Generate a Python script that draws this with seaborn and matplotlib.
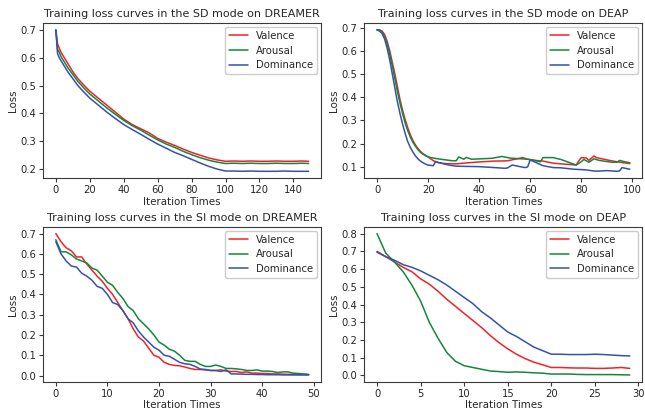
import matplotlib
matplotlib.use("Agg")
import matplotlib.pyplot as plt
import seaborn as sns
import pandas as pd

# ---------------- data ----------------
series_names = ["Valence", "Arousal", "Dominance"]

# SD mode on DREAMER (150 iterations)
sd_dreamer_x = [0, 1, 2, 3, 5, 7, 10, 13, 16, 20, 25, 30, 35, 40, 45, 50, 55, 60, 65, 70,
                75, 80, 85, 90, 95, 100, 105, 110, 115, 120, 125, 130, 135, 140, 145, 149]
sd_dreamer_valence = [0.70, 0.65, 0.635, 0.62, 0.60, 0.58, 0.55, 0.525, 0.505, 0.48, 0.455, 0.43,
                      0.405, 0.38, 0.36, 0.345, 0.33, 0.31, 0.297, 0.285, 0.272, 0.26, 0.25, 0.24,
                      0.233, 0.228, 0.229, 0.228, 0.229, 0.228, 0.228, 0.229, 0.228, 0.228, 0.229, 0.228]
sd_dreamer_arousal = [0.70, 0.63, 0.62, 0.605, 0.585, 0.565, 0.54, 0.515, 0.495, 0.47, 0.445, 0.42,
                      0.397, 0.375, 0.356, 0.34, 0.322, 0.305, 0.29, 0.278, 0.264, 0.252, 0.241, 0.232,
                      0.225, 0.22, 0.221, 0.22, 0.221, 0.22, 0.22, 0.221, 0.22, 0.22, 0.221, 0.22]
sd_dreamer_dominance = [0.70, 0.615, 0.60, 0.59, 0.57, 0.55, 0.525, 0.50, 0.48, 0.455, 0.43, 0.405,
                        0.382, 0.36, 0.342, 0.325, 0.307, 0.29, 0.275, 0.26, 0.248, 0.235, 0.222, 0.21,
                        0.2, 0.193, 0.193, 0.192, 0.193, 0.192, 0.192, 0.192, 0.193, 0.192, 0.192, 0.192]

# SD mode on DEAP (100 iterations)
sd_deap_valence_x = [0, 1, 2, 3, 4, 5, 6, 7, 8, 9, 10, 11, 12, 13, 14, 15, 16, 17, 18, 19, 20,
                     21, 22, 24, 27, 31, 36, 41, 46, 51, 55, 57, 59, 62, 65, 69, 73, 76, 78, 79,
                     80, 82, 83, 85, 86, 88, 91, 94, 97, 99]
sd_deap_valence = [0.69, 0.69, 0.685, 0.67, 0.64, 0.60, 0.55, 0.50, 0.445, 0.39, 0.345, 0.305,
                   0.27, 0.24, 0.215, 0.195, 0.18, 0.167, 0.157, 0.15, 0.143, 0.135, 0.127, 0.118,
                   0.114, 0.113, 0.118, 0.122, 0.125, 0.126, 0.135, 0.14, 0.133, 0.128, 0.125,
                   0.116, 0.112, 0.11, 0.108, 0.125, 0.14, 0.138, 0.128, 0.147, 0.14, 0.135,
                   0.128, 0.122, 0.117, 0.114]
sd_deap_arousal_x = [0, 1, 2, 3, 4, 5, 6, 7, 8, 9, 10, 11, 12, 13, 14, 15, 16, 17, 18, 19, 20,
                     22, 25, 29, 31, 32, 34, 35, 37, 41, 45, 49, 52, 56, 59, 62, 64, 65, 69, 72,
                     75, 78, 80, 81, 83, 85, 87, 92, 94, 95, 97, 99]
sd_deap_arousal = [0.69, 0.69, 0.68, 0.66, 0.63, 0.585, 0.535, 0.48, 0.425, 0.375, 0.33, 0.29,
                   0.257, 0.23, 0.207, 0.19, 0.175, 0.163, 0.155, 0.148, 0.143, 0.138, 0.133,
                   0.127, 0.126, 0.143, 0.133, 0.141, 0.133, 0.135, 0.137, 0.145, 0.138, 0.135,
                   0.133, 0.127, 0.122, 0.14, 0.14, 0.132, 0.12, 0.108, 0.122, 0.132, 0.12,
                   0.135, 0.128, 0.12, 0.12, 0.128, 0.122, 0.118]
sd_deap_dominance_x = [0, 1, 2, 3, 4, 5, 6, 7, 8, 9, 10, 11, 12, 13, 14, 15, 16, 17, 18, 19, 20,
                       22, 23, 25, 28, 31, 40, 46, 50, 51, 53, 56, 58, 59, 60, 62, 65, 69, 72,
                       77, 82, 85, 87, 90, 94, 95, 96, 98, 99]
sd_deap_dominance = [0.69, 0.685, 0.675, 0.65, 0.61, 0.56, 0.50, 0.44, 0.38, 0.33, 0.285, 0.245,
                     0.21, 0.185, 0.165, 0.148, 0.135, 0.125, 0.118, 0.112, 0.108, 0.105, 0.123,
                     0.116, 0.108, 0.103, 0.101, 0.097, 0.094, 0.095, 0.108, 0.101, 0.097, 0.1,
                     0.13, 0.12, 0.105, 0.097, 0.096, 0.09, 0.087, 0.082, 0.082, 0.084, 0.081,
                     0.083, 0.097, 0.092, 0.09]

# SI mode on DREAMER (50 iterations)
si_dreamer_x = list(range(50))
si_dreamer_valence = [0.70, 0.66, 0.63, 0.615, 0.585, 0.585, 0.55, 0.52, 0.49, 0.465, 0.43, 0.40,
                      0.36, 0.32, 0.28, 0.23, 0.19, 0.17, 0.135, 0.10, 0.09, 0.065, 0.055, 0.05,
                      0.048, 0.042, 0.035, 0.03, 0.03, 0.028, 0.025, 0.025, 0.028, 0.022, 0.02,
                      0.02, 0.015, 0.018, 0.012, 0.012, 0.01, 0.01, 0.008, 0.008, 0.007, 0.006,
                      0.006, 0.005, 0.005, 0.005]
si_dreamer_arousal = [0.67, 0.61, 0.61, 0.595, 0.575, 0.565, 0.555, 0.53, 0.52, 0.49, 0.46, 0.445,
                      0.41, 0.38, 0.34, 0.32, 0.28, 0.255, 0.23, 0.20, 0.165, 0.15, 0.13, 0.12,
                      0.10, 0.075, 0.07, 0.07, 0.055, 0.045, 0.045, 0.052, 0.045, 0.035, 0.035,
                      0.033, 0.03, 0.025, 0.025, 0.028, 0.022, 0.022, 0.02, 0.015, 0.018, 0.018,
                      0.012, 0.01, 0.008, 0.005]
si_dreamer_dominance = [0.66, 0.60, 0.565, 0.54, 0.535, 0.505, 0.49, 0.47, 0.44, 0.43, 0.40, 0.36,
                        0.35, 0.32, 0.28, 0.26, 0.22, 0.19, 0.165, 0.14, 0.125, 0.10, 0.095, 0.08,
                        0.065, 0.058, 0.055, 0.045, 0.032, 0.03, 0.025, 0.025, 0.02, 0.028, 0.008,
                        0.008, 0.007, 0.006, 0.006, 0.005, 0.005, 0.004, 0.004, 0.004, 0.003,
                        0.003, 0.003, 0.003, 0.003, 0.003]

# SI mode on DEAP (30 iterations)
si_deap_x = list(range(30))
si_deap_valence = [0.70, 0.67, 0.64, 0.61, 0.585, 0.545, 0.515, 0.475, 0.43, 0.39, 0.35, 0.31,
                   0.27, 0.225, 0.185, 0.15, 0.12, 0.095, 0.075, 0.06, 0.045, 0.045, 0.043,
                   0.042, 0.042, 0.04, 0.04, 0.042, 0.045, 0.04]
si_deap_arousal = [0.80, 0.69, 0.64, 0.585, 0.51, 0.42, 0.30, 0.21, 0.13, 0.08, 0.055, 0.045,
                   0.035, 0.025, 0.022, 0.018, 0.02, 0.018, 0.015, 0.013, 0.008, 0.008, 0.008,
                   0.006, 0.005, 0.005, 0.005, 0.005, 0.004, 0.003]
si_deap_dominance = [0.695, 0.67, 0.65, 0.625, 0.61, 0.59, 0.565, 0.54, 0.51, 0.475, 0.44, 0.405,
                     0.36, 0.325, 0.285, 0.245, 0.22, 0.19, 0.16, 0.14, 0.12, 0.12, 0.118, 0.118,
                     0.118, 0.12, 0.118, 0.115, 0.112, 0.11]

titles = ["Training loss curves in the SD mode on DREAMER",
          "Training loss curves in the SD mode on DEAP",
          "Training loss curves in the SI mode on DREAMER",
          "Training loss curves in the SI mode on DEAP"]
xticks_list = [[0, 20, 40, 60, 80, 100, 120, 140],
               [0, 20, 40, 60, 80, 100],
               [0, 10, 20, 30, 40, 50],
               [0, 5, 10, 15, 20, 25, 30]]
yticks_list = [[0.2, 0.3, 0.4, 0.5, 0.6, 0.7],
               [0.1, 0.2, 0.3, 0.4, 0.5, 0.6, 0.7],
               [0.0, 0.1, 0.2, 0.3, 0.4, 0.5, 0.6, 0.7],
               [0.0, 0.1, 0.2, 0.3, 0.4, 0.5, 0.6, 0.7, 0.8]]
x_label = "Iteration Times"
y_label = "Loss"

panels = [
    [(sd_dreamer_x, sd_dreamer_valence), (sd_dreamer_x, sd_dreamer_arousal), (sd_dreamer_x, sd_dreamer_dominance)],
    [(sd_deap_valence_x, sd_deap_valence), (sd_deap_arousal_x, sd_deap_arousal), (sd_deap_dominance_x, sd_deap_dominance)],
    [(si_dreamer_x, si_dreamer_valence), (si_dreamer_x, si_dreamer_arousal), (si_dreamer_x, si_dreamer_dominance)],
    [(si_deap_x, si_deap_valence), (si_deap_x, si_deap_arousal), (si_deap_x, si_deap_dominance)],
]

colors = ["#f02228", "#13873c", "#3552a8"]

# ---------------- style ----------------
sns.set_style("ticks")
plt.rcParams.update({
    "font.family": ["DejaVu Sans"],
    "axes.edgecolor": "#3a3a3a",
    "axes.linewidth": 0.8,
    "xtick.color": "#3a3a3a",
    "ytick.color": "#3a3a3a",
    "xtick.labelcolor": "#262626",
    "ytick.labelcolor": "#262626",
    "xtick.major.size": 3,
    "ytick.major.size": 3,
    "xtick.major.width": 0.8,
    "ytick.major.width": 0.8,
    "xtick.labelsize": 7.2,
    "ytick.labelsize": 7.2,
    "axes.labelsize": 7.4,
    "axes.titlesize": 8.0,
    "legend.fontsize": 7.3,
    "axes.labelcolor": "#262626",
    "axes.titlecolor": "#262626",
})

fig, axes = plt.subplots(2, 2, figsize=(6.45, 4.09), dpi=100)
fig.subplots_adjust(left=0.067, right=0.996, top=0.944, bottom=0.066,
                    wspace=0.155, hspace=0.31)

for ax, series, title, xt, yt in zip(axes.flat, panels, titles, xticks_list, yticks_list):
    for name, (xs, ys), c in zip(series_names, series, colors):
        df = pd.DataFrame({"x": xs, "y": ys})
        sns.lineplot(data=df, x="x", y="y", ax=ax, color=c, linewidth=1.1, label=name)
    ax.set_title(title, pad=4)
    ax.set_xlabel(x_label, labelpad=1)
    ax.set_ylabel(y_label, labelpad=2)
    ax.set_xticks(xt)
    ax.set_yticks(yt)
    ax.tick_params(pad=2)
    ax.legend(loc="upper right", frameon=True, fancybox=True, edgecolor="#cccccc",
              framealpha=1.0, borderpad=0.4, handlelength=1.9, labelspacing=0.45,
              handletextpad=0.8, borderaxespad=0.4)

fig.savefig("out.png", dpi=100)
